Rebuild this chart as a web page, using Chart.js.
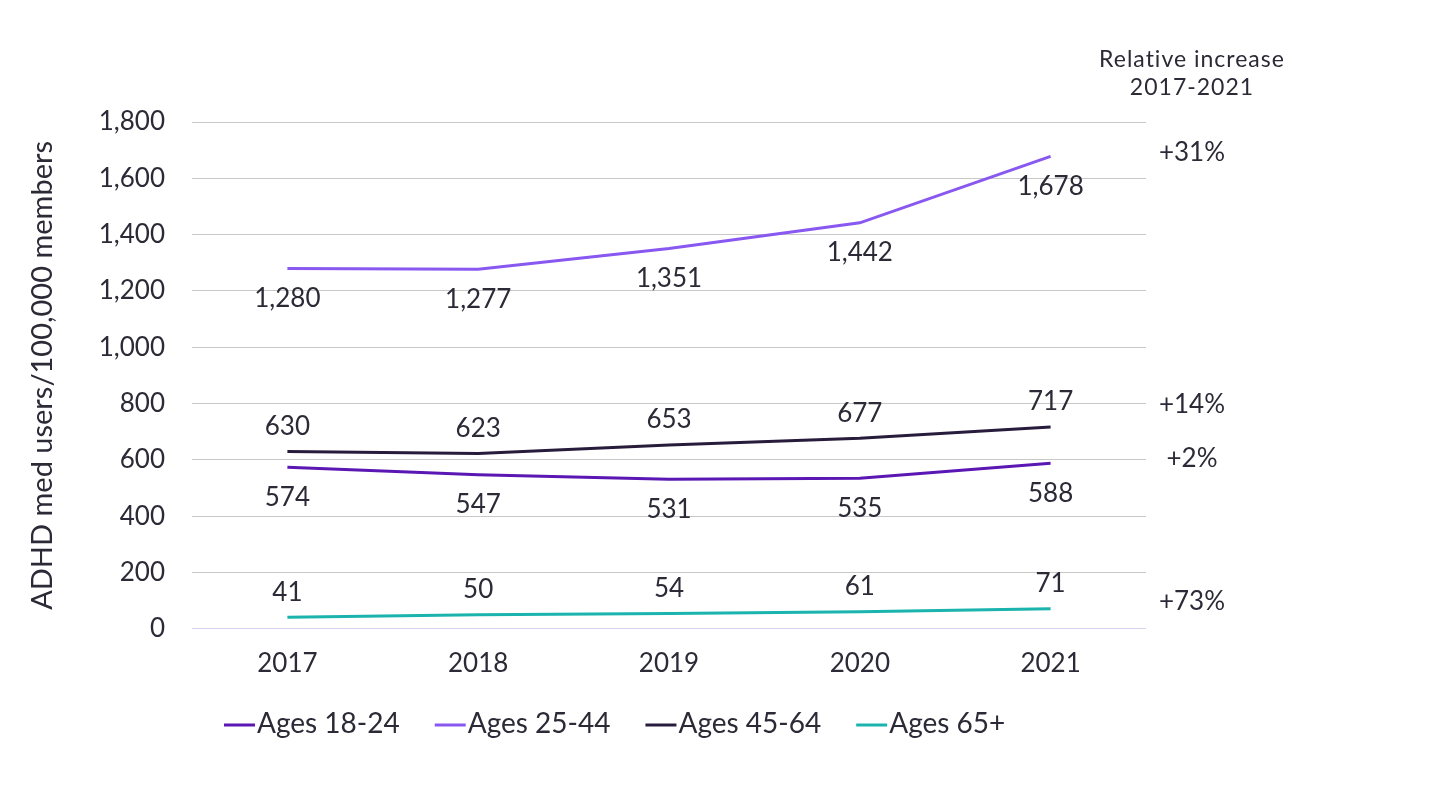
<!DOCTYPE html>
<html>
<head>
<meta charset="utf-8">
<script src="https://cdn.jsdelivr.net/npm/chart.js@4"></script>
<style>
  html, body { margin: 0; padding: 0; background: #fff; }
  #wrap { width: 1441px; height: 811px; position: relative; }
</style>
</head>
<body>
<div id="wrap"><canvas id="myChart"></canvas></div>
<script>
const years = ['2017', '2018', '2019', '2020', '2021']
const ages1824 = [574, 547, 531, 535, 588]
const ages2544 = [1280, 1277, 1351, 1442, 1678]
const ages4564 = [630, 623, 653, 677, 717]
const ages65 = [41, 50, 54, 61, 71]
const yTicks = [0, 200, 400, 600, 800, 1000, 1200, 1400, 1600, 1800]
const relIncrease = ['+2%', '+31%', '+14%', '+73%']

const FONT = 'Lato, "Open Sans", sans-serif'
const TEXT = '#2b2a36'

// label above (-1) or below (+1) the line, per dataset
const labelSide = [1, 1, -1, -1]
// where the right-hand percentages sit, in axis units
const relAnchor = [605, 1690, 797, 96]

const labelPlugin = {
  id: 'labels',
  afterDatasetsDraw(chart) {
    const c = chart.ctx
    const y = chart.scales.y
    c.save()
    c.fillStyle = TEXT
    c.textAlign = 'center'
    c.textBaseline = 'middle'
    c.font = '26px ' + FONT
    chart.data.datasets.forEach((ds, i) => {
      const meta = chart.getDatasetMeta(i)
      meta.data.forEach((pt, j) => {
        const off = labelSide[i] > 0 ? 30 : -25
        c.fillText(ds.data[j].toLocaleString('en-US'), pt.x, pt.y + off)
      })
    })
    c.font = '26px ' + FONT
    relIncrease.forEach((t, i) => {
      c.fillText(t, 1192, y.getPixelForValue(relAnchor[i]))
    })
    c.font = '23px ' + FONT
    c.letterSpacing = '1px'
    c.fillText('Relative increase', 1192, 60)
    c.fillText('2017-2021', 1192, 88)
    c.letterSpacing = '0px'

    // legend, drawn by hand so the spacing matches
    let x = 224
    const ly = 724
    c.font = '28px ' + FONT
    c.textAlign = 'left'
    chart.data.datasets.forEach(ds => {
      c.strokeStyle = ds.borderColor
      c.lineWidth = 3
      c.beginPath()
      c.moveTo(x, ly + 1)
      c.lineTo(x + 31, ly + 1)
      c.stroke()
      c.fillStyle = TEXT
      c.fillText(ds.label, x + 33, ly)
      x += 33 + c.measureText(ds.label).width + 35
    })
    c.restore()
  }
}

const ctx = document.getElementById('myChart')

const config = {
  type: 'line',
  data: {
    labels: years,
    datasets: [
      { label: 'Ages 18-24', data: ages1824, borderColor: '#5b17b3', backgroundColor: '#5b17b3' },
      { label: 'Ages 25-44', data: ages2544, borderColor: '#8858f0', backgroundColor: '#8858f0' },
      { label: 'Ages 45-64', data: ages4564, borderColor: '#281c3c', backgroundColor: '#281c3c' },
      { label: 'Ages 65+', data: ages65, borderColor: '#1bb3ad', backgroundColor: '#1bb3ad' }
    ]
  },
  options: {
    responsive: true,
    maintainAspectRatio: false,
    animation: false,
    elements: {
      line: { borderWidth: 3, tension: 0 },
      point: { radius: 0, hoverRadius: 0 }
    },
    layout: { padding: { top: 122, right: 295, bottom: 121, left: 0 } },
    plugins: {
      tooltip: { enabled: false },
      legend: { display: false }
    },
    scales: {
      x: {
        offset: true,
        grid: { display: false },
        border: { display: false },
        ticks: { color: TEXT, padding: 11, font: { family: FONT, size: 26 } }
      },
      y: {
        min: 0,
        max: 1800,
        afterBuildTicks(scale) {
          scale.ticks = yTicks.map(v => ({ value: v }))
        },
        afterFit(scale) { scale.width = 192 },
        border: { display: false },
        grid: {
          drawTicks: false,
          color: c => c.tick && c.tick.value === 0 ? '#d9d0f2' : '#c8c8c8',
          lineWidth: 1
        },
        ticks: {
          color: TEXT,
          padding: 27,
          font: { family: FONT, size: 26 },
          callback: v => v.toLocaleString('en-US')
        },
        title: {
          display: true,
          text: 'ADHD med users/100,000 members',
          color: TEXT,
          padding: { top: 25, bottom: 0 },
          font: { family: FONT, size: 29 }
        }
      }
    }
  },
  plugins: [labelPlugin]
}

const chart = new Chart(ctx, config)
</script>
</body>
</html>
